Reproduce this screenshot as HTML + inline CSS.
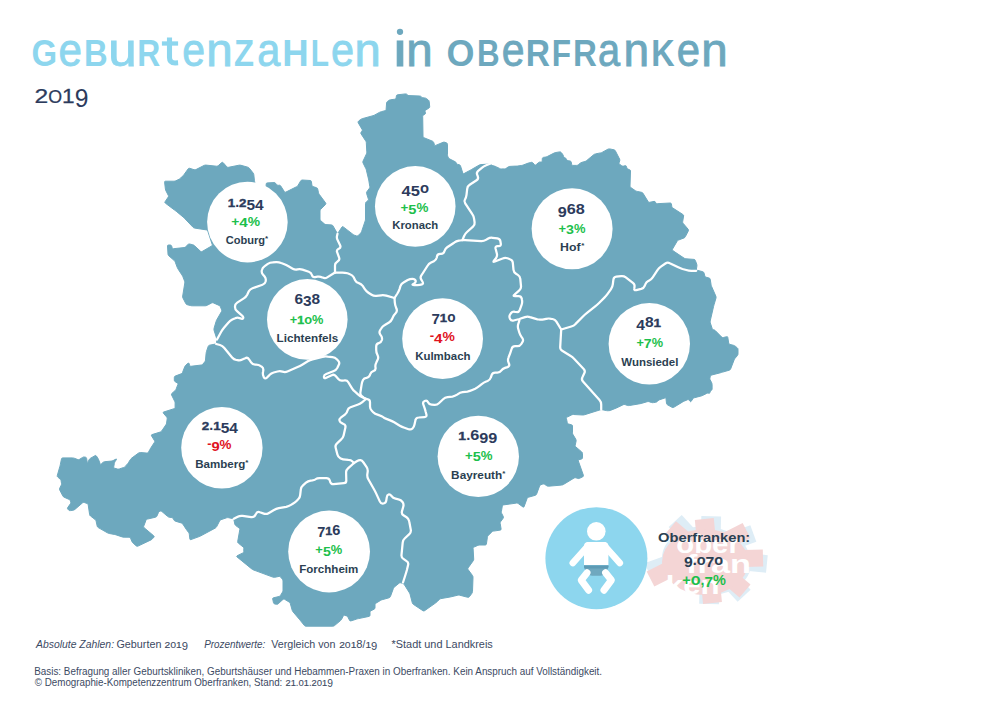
<!DOCTYPE html>
<html><head><meta charset="utf-8"><title>Geburtenzahlen in Oberfranken 2019</title>
<style>
html,body{margin:0;padding:0;background:#fff;}
body{width:1000px;height:707px;position:relative;overflow:hidden;font-family:"Liberation Sans",sans-serif;}
svg{position:absolute;left:0;top:0;display:block;}
text{white-space:pre;font-family:"Liberation Sans",sans-serif;}
</style></head><body>
<svg width="1000" height="707" viewBox="0 0 1000 707" font-family="Liberation Sans, sans-serif">
<text transform="translate(31.40,65.60) scale(0.9009,1)" font-size="36.60" font-weight="bold" fill="#8dd6ee">G</text>
<text transform="translate(58.61,65.60) scale(0.8978,1)" font-size="47.00" stroke="#8dd6ee" stroke-width="0.90" fill="#8dd6ee">e</text>
<text transform="translate(84.06,65.60) scale(0.8960,1)" font-size="36.60" font-weight="bold" fill="#8dd6ee">B</text>
<text transform="translate(108.33,65.60) scale(1.0869,1)" font-size="47.00" stroke="#8dd6ee" stroke-width="0.90" fill="#8dd6ee">u</text>
<text transform="translate(137.27,65.60) scale(0.8695,1)" font-size="36.60" font-weight="bold" fill="#8dd6ee">R</text>
<path d="M169.5,37.6 L169.5,57.6 Q169.5,63 175.1,63 L178.1,62.8" fill="none" stroke="#8dd6ee" stroke-width="5.1"/>
<path d="M161.9,43.5 L178.1,43.5" fill="none" stroke="#8dd6ee" stroke-width="4.3"/>
<text transform="translate(182.16,65.60) scale(0.8706,1)" font-size="47.00" stroke="#8dd6ee" stroke-width="0.90" fill="#8dd6ee">e</text>
<text transform="translate(206.24,65.60) scale(1.0117,1)" font-size="47.00" stroke="#8dd6ee" stroke-width="0.90" fill="#8dd6ee">n</text>
<text transform="translate(234.02,65.60) scale(0.8955,1)" font-size="36.60" font-weight="bold" fill="#8dd6ee">Z</text>
<text transform="translate(257.14,65.60) scale(0.8823,1)" font-size="47.00" stroke="#8dd6ee" stroke-width="0.90" fill="#8dd6ee">a</text>
<text transform="translate(282.30,65.60) scale(0.9992,1)" font-size="36.60" font-weight="bold" fill="#8dd6ee">H</text>
<text transform="translate(310.75,65.60) scale(0.8172,1)" font-size="36.60" font-weight="bold" fill="#8dd6ee">L</text>
<text transform="translate(330.89,65.60) scale(0.8819,1)" font-size="47.00" stroke="#8dd6ee" stroke-width="0.90" fill="#8dd6ee">e</text>
<text transform="translate(354.52,65.60) scale(1.0042,1)" font-size="47.00" stroke="#8dd6ee" stroke-width="0.90" fill="#8dd6ee">n</text>
<text transform="translate(391.48,65.60) scale(1.3072,1)" font-size="47.00" stroke="#6da8be" stroke-width="0.90" fill="#6da8be">ı</text>
<circle cx="400" cy="31.8" r="3.15" fill="#6da8be"/>
<text transform="translate(406.24,65.60) scale(1.0117,1)" font-size="47.00" stroke="#6da8be" stroke-width="0.90" fill="#6da8be">n</text>
<text transform="translate(446.62,65.60) scale(0.9831,1)" font-size="36.60" font-weight="bold" fill="#6da8be">O</text>
<text transform="translate(476.90,65.60) scale(0.8557,1)" font-size="36.60" font-weight="bold" fill="#6da8be">B</text>
<text transform="translate(501.76,65.60) scale(0.8706,1)" font-size="47.00" stroke="#6da8be" stroke-width="0.90" fill="#6da8be">e</text>
<text transform="translate(525.86,65.60) scale(0.9168,1)" font-size="36.60" font-weight="bold" fill="#6da8be">R</text>
<text transform="translate(551.64,65.60) scale(0.8617,1)" font-size="36.60" font-weight="bold" fill="#6da8be">F</text>
<text transform="translate(573.04,65.60) scale(0.9039,1)" font-size="36.60" font-weight="bold" fill="#6da8be">R</text>
<text transform="translate(598.11,65.60) scale(0.8450,1)" font-size="47.00" stroke="#6da8be" stroke-width="0.90" fill="#6da8be">a</text>
<text transform="translate(623.59,65.60) scale(0.9792,1)" font-size="47.00" stroke="#6da8be" stroke-width="0.90" fill="#6da8be">n</text>
<text transform="translate(651.34,65.60) scale(0.8840,1)" font-size="36.60" font-weight="bold" fill="#6da8be">K</text>
<text transform="translate(676.73,65.60) scale(0.8887,1)" font-size="47.00" stroke="#6da8be" stroke-width="0.90" fill="#6da8be">e</text>
<text transform="translate(701.24,65.60) scale(1.0117,1)" font-size="47.00" stroke="#6da8be" stroke-width="0.90" fill="#6da8be">n</text>
<text transform="translate(34.56,102.50) scale(1.2764,1)" font-size="19.30" stroke="#2c3b5c" stroke-width="0.25" fill="#2c3b5c">2</text>
<text transform="translate(48.26,102.50) scale(0.9360,1)" font-size="19.00" stroke="#2c3b5c" stroke-width="0.25" fill="#2c3b5c">O</text>
<text transform="translate(62.09,102.50) scale(1.1700,1)" font-size="19.30" stroke="#2c3b5c" stroke-width="0.25" fill="#2c3b5c">1</text>
<text transform="translate(74.65,107.10) scale(0.9786,1)" font-size="25.20" fill="#2c3b5c">9</text>
<path d="M358.2,122.7Q357.7,121.8 358.5,121.2L360.4,119.6Q361.2,119.0 362.2,118.7L373.0,115.7Q374.0,115.4 374.9,114.9L379.4,112.4Q380.3,111.9 381.3,111.7L385.0,110.7Q386.0,110.5 386.1,109.5L386.6,103.0Q386.7,102.0 387.5,101.4L388.7,100.5Q389.5,99.9 390.5,99.8L394.9,99.2Q395.9,99.1 396.1,98.1L396.4,95.9Q396.6,94.9 397.6,94.8L405.5,93.9Q406.5,93.8 407.1,94.6L407.3,94.8Q407.9,95.6 408.9,95.6L419.6,96.0Q420.6,96.0 421.2,96.8L421.4,96.9Q422.0,97.7 423.0,97.8L424.6,97.9Q425.6,98.0 426.4,98.6L428.3,100.0Q429.1,100.6 429.2,101.6L429.7,106.6Q429.8,107.6 428.9,108.1L425.8,110.0Q424.9,110.5 425.1,111.5L425.4,113.0Q425.6,114.0 424.7,114.4L423.6,115.0Q422.7,115.4 422.7,116.4L423.0,136.3Q423.0,137.3 423.9,137.7L432.5,141.2Q433.4,141.6 433.7,142.5L434.5,144.9Q434.8,145.8 435.7,145.4L443.1,142.3Q444.0,141.9 444.9,142.3L446.6,142.9Q447.5,143.3 447.5,144.3L447.5,154.7Q447.5,155.7 447.9,156.6L448.5,157.7Q448.9,158.6 449.8,159.0L455.1,161.7Q456.0,162.1 456.3,163.0L456.4,163.3Q456.7,164.2 457.7,164.4L459.2,164.7Q460.2,164.9 460.5,165.9L462.8,173.1Q463.1,174.1 464.0,173.6L469.9,170.4Q470.8,169.9 471.7,169.4L479.0,165.2Q479.9,164.7 480.9,164.6L488.8,164.1Q489.8,164.0 490.6,164.6L491.1,164.8Q491.9,165.4 492.9,165.7L494.5,166.1Q495.5,166.4 496.4,166.9L499.5,168.4Q500.4,168.9 501.4,168.9L504.4,168.9Q505.4,168.9 506.2,168.3L508.1,167.0Q508.9,166.4 509.9,166.4L515.7,166.1Q516.7,166.1 517.7,166.0L521.3,165.5Q522.3,165.4 523.2,165.0L528.5,163.0Q529.4,162.6 530.4,162.5L531.2,162.3Q532.2,162.2 532.9,162.9L534.6,164.7Q535.3,165.4 536.1,164.7L538.5,162.6Q539.3,161.9 540.3,162.0L541.1,162.1Q542.1,162.2 542.2,161.2L542.3,158.6Q542.4,157.6 543.4,157.4L545.4,157.1Q546.4,156.9 547.3,156.5L554.0,153.1Q554.9,152.7 555.9,152.5L559.5,151.9Q560.5,151.7 561.2,152.5L561.9,153.3Q562.6,154.1 563.0,155.0L563.7,156.7Q564.1,157.6 565.0,157.9L565.3,158.0Q566.2,158.3 566.5,159.3L566.6,159.5Q566.9,160.5 567.9,160.7L570.1,161.0Q571.1,161.2 571.3,162.2L571.6,164.4Q571.8,165.4 572.8,165.4L576.5,165.4Q577.5,165.4 578.3,164.8L580.2,163.2Q581.0,162.6 582.0,162.3L585.0,161.5Q586.0,161.2 586.8,160.5L589.4,158.3Q590.2,157.6 591.0,157.0L593.7,154.7Q594.5,154.1 595.5,153.9L600.5,152.9Q601.5,152.7 602.4,152.2L607.9,149.2Q608.8,148.8 609.7,148.9L614.0,149.8Q615.0,150.0 615.4,150.9L619.6,159.1Q620.0,160.0 619.7,160.9L619.1,162.8Q618.8,163.8 619.6,164.3L621.7,165.7Q622.5,166.2 623.5,166.1L625.3,165.7Q626.2,165.5 626.5,166.5L626.8,167.8Q627.0,168.8 627.9,169.1L629.6,169.7Q630.5,170.0 630.5,171.0L630.0,186.0Q630.0,187.0 630.8,187.6L635.4,190.7Q636.2,191.2 637.2,191.4L641.5,192.3Q642.5,192.5 643.0,193.3L648.2,201.7Q648.8,202.5 649.7,202.3L654.0,201.4Q655.0,201.2 655.4,202.1L655.8,202.9Q656.2,203.8 657.2,203.7L670.3,203.0Q671.2,203.0 671.4,204.0L671.8,206.5Q672.0,207.5 672.8,208.0L682.9,214.5Q683.8,215.0 683.6,216.0L682.7,221.5Q682.5,222.5 683.1,223.3L688.1,229.2Q688.8,230.0 688.3,230.9L685.4,236.6Q685.0,237.5 684.1,237.9L678.4,240.1Q677.5,240.5 677.0,241.4L672.5,249.1Q672.0,250.0 672.8,250.6L684.2,258.2Q685.0,258.8 686.0,258.8L694.0,259.4Q695.0,259.5 695.3,260.4L696.7,264.1Q697.0,265.0 696.9,266.0L696.4,269.0Q696.2,270.0 697.2,270.3L702.8,271.7Q703.8,272.0 704.0,273.0L704.8,276.0Q705.0,277.0 706.0,277.2L709.0,278.0Q710.0,278.2 710.2,279.2L711.1,284.8Q711.2,285.8 711.7,286.7L715.8,296.1Q716.2,297.0 716.0,298.0L714.0,304.8Q713.8,305.8 713.5,306.7L710.2,321.0Q710.0,322.0 710.3,322.9L712.2,328.6Q712.5,329.5 713.5,329.7L713.7,329.8Q714.7,330.0 715.4,330.7L721.7,337.1Q722.4,337.8 723.4,337.5L726.7,336.7Q727.7,336.4 727.8,337.4L728.7,343.1Q728.8,344.1 729.8,344.4L733.5,345.3Q734.5,345.6 735.3,346.2L737.2,347.8Q738.0,348.4 738.0,349.4L738.0,353.8Q738.0,354.8 737.4,355.6L735.1,358.2Q734.5,359.0 734.1,359.9L730.6,369.0Q730.2,369.9 729.2,370.2L722.7,372.1Q721.7,372.4 720.7,372.7L711.7,375.0Q710.7,375.3 710.4,376.3L710.0,377.8Q709.7,378.8 710.1,379.7L711.7,382.8Q712.1,383.7 712.1,384.7L712.1,389.1Q712.1,390.1 711.2,390.5L711.2,390.5Q710.4,390.8 710.2,391.8L709.9,392.6Q709.7,393.6 708.8,393.3L708.5,393.2Q707.6,392.9 706.7,393.4L702.9,395.3Q702.0,395.8 701.0,396.0L694.5,397.7Q693.5,397.9 692.9,398.7L691.2,401.3Q690.6,402.1 690.0,401.3L689.1,400.1Q688.5,399.3 687.6,399.7L684.5,401.0Q683.6,401.4 682.7,401.9L673.8,407.3Q672.9,407.8 672.0,407.3L667.5,404.8Q666.6,404.3 666.5,403.3L666.0,398.6Q665.9,397.6 665.0,397.9L659.7,399.7Q658.8,400.0 658.1,400.7L657.4,401.4Q656.7,402.1 655.7,402.3L653.4,402.6Q652.4,402.8 651.5,402.5L649.1,401.7Q648.2,401.4 647.2,401.7L642.1,403.2Q641.1,403.5 640.1,403.7L629.4,405.5Q628.4,405.7 627.4,405.4L625.1,404.6Q624.1,404.3 623.2,404.7L618.4,407.1Q617.5,407.5 616.6,407.9L610.9,410.2Q610.0,410.6 609.0,410.7L608.5,410.7Q607.5,410.8 606.5,410.6L602.2,409.7Q601.2,409.5 600.3,409.8L584.7,414.7Q583.8,415.0 582.8,415.0L573.5,414.5Q572.5,414.5 571.6,414.9L567.2,417.1Q566.2,417.5 566.4,418.5L567.3,422.8Q567.5,423.8 568.5,424.0L571.5,424.8Q572.5,425.0 572.5,426.0L572.5,432.8Q572.5,433.8 573.0,434.6L575.7,439.1Q576.2,440.0 576.1,441.0L575.2,445.3Q575.0,446.2 575.8,446.9L581.7,451.9Q582.5,452.5 582.5,453.5L582.5,457.8Q582.5,458.8 581.5,459.0L579.0,459.7Q578.0,460.0 578.3,460.9L583.4,475.3Q583.8,476.2 582.9,476.7L579.6,478.3Q578.8,478.8 577.8,478.4L575.9,477.8Q575.0,477.5 574.1,478.0L563.4,484.5Q562.5,485.0 561.5,485.1L548.5,486.2Q547.5,486.2 546.7,485.7L544.6,484.3Q543.8,483.8 542.8,484.1L540.9,484.7Q540.0,485.0 539.6,485.9L536.6,494.1Q536.2,495.0 535.3,495.3L528.5,497.2Q527.5,497.5 527.1,498.4L524.1,506.6Q523.8,507.5 522.9,506.9L518.3,503.6Q517.5,503.0 516.5,503.1L503.5,504.9Q502.5,505.0 502.3,506.0L501.4,511.5Q501.2,512.5 501.7,513.4L503.3,516.6Q503.8,517.5 503.1,518.3L500.6,521.7Q500.0,522.5 500.2,523.5L501.1,529.0Q501.2,530.0 500.3,530.1L493.5,531.1Q492.5,531.2 491.8,532.0L488.2,535.5Q487.5,536.2 487.4,537.2L486.4,544.0Q486.2,545.0 485.2,545.0L479.8,545.0Q478.8,545.0 477.8,545.4L473.9,547.1Q473.0,547.5 473.1,548.5L473.7,559.0Q473.8,560.0 473.2,560.8L468.1,567.9Q467.5,568.8 468.1,569.6L472.4,575.4Q473.0,576.2 473.0,577.2L472.5,591.5Q472.5,592.5 471.9,593.3L469.4,596.7Q468.8,597.5 467.8,597.3L459.7,595.2Q458.8,595.0 457.8,595.2L451.0,596.8Q450.0,597.0 449.0,597.2L441.0,598.6Q440.0,598.8 439.3,599.5L437.0,601.8Q436.2,602.5 435.4,603.1L424.6,610.7Q423.8,611.2 422.9,610.7L413.3,604.3Q412.5,603.8 412.3,602.8L410.2,594.7Q410.0,593.8 409.5,592.9L404.3,584.6Q403.8,583.8 402.8,583.4L400.9,582.8Q400.0,582.5 399.2,583.1L394.5,586.9Q393.8,587.5 393.4,588.4L390.4,596.6Q390.0,597.5 389.0,597.8L382.2,599.7Q381.2,600.0 380.4,600.5L375.9,603.2Q375.0,603.8 375.0,604.8L375.0,607.8Q375.0,608.8 374.1,609.2L370.9,610.8Q370.0,611.2 370.0,612.2L370.0,615.2Q370.0,616.2 369.0,616.4L358.5,618.6Q357.5,618.8 356.6,619.1L350.9,620.9Q350.0,621.2 349.6,620.4L347.9,617.1Q347.5,616.2 346.6,615.9L344.7,615.3Q343.8,615.0 343.3,615.9L341.7,619.1Q341.2,620.0 340.5,620.6L334.5,625.6Q333.8,626.2 332.8,626.2L306.0,626.2Q305.0,626.2 304.4,625.5L300.6,620.8Q300.0,620.0 299.3,619.2L293.2,612.0Q292.5,611.2 292.2,610.3L290.3,603.5Q290.0,602.5 289.1,602.0L284.6,599.3Q283.8,598.8 283.0,599.4L278.2,603.8Q277.5,604.5 276.5,604.3L274.7,603.9Q273.8,603.8 273.5,602.8L272.7,599.0Q272.5,598.0 273.5,597.8L279.0,596.5Q280.0,596.2 280.5,595.4L282.5,592.1Q283.0,591.2 283.0,590.2L283.0,581.0Q283.0,580.0 282.4,579.2L280.6,577.0Q280.0,576.2 279.0,576.4L274.7,577.3Q273.8,577.5 272.8,577.1L253.4,569.9Q252.5,569.5 251.7,568.9L237.0,556.9Q236.2,556.2 237.1,555.8L242.9,552.9Q243.8,552.5 243.8,551.5L243.8,548.5Q243.8,547.5 243.0,546.9L238.3,543.1Q237.5,542.5 237.7,541.5L239.8,529.7Q240.0,528.8 239.2,528.1L235.8,525.6Q235.0,525.0 234.8,524.0L233.9,519.7Q233.8,518.8 232.8,518.6L228.5,517.7Q227.5,517.5 226.6,517.8L220.9,519.7Q220.0,520.0 219.6,520.9L216.7,526.6Q216.2,527.5 215.4,528.0L200.9,535.8Q200.0,536.2 199.1,536.6L190.9,539.6Q190.0,540.0 189.9,539.0L189.3,534.3Q189.2,533.3 188.6,532.5L187.5,531.0Q186.9,530.2 186.3,529.4L182.8,524.0Q182.2,523.2 181.2,522.9L175.4,521.2Q174.4,520.9 174.0,520.0L173.3,518.7Q172.9,517.8 171.9,517.6L169.2,517.2Q168.2,517.0 167.5,516.3L161.9,511.5Q161.2,510.8 160.2,511.1L159.9,511.2Q158.9,511.5 158.5,512.4L156.9,516.1Q156.5,517.0 155.5,517.2L147.4,519.1Q146.4,519.3 146.0,520.2L143.7,526.2Q143.3,527.1 144.1,527.7L153.7,535.8Q154.5,536.4 153.9,537.2L152.5,538.7Q151.9,539.5 151.0,539.9L138.0,546.1Q137.1,546.5 136.3,545.9L133.2,543.2Q132.4,542.6 132.0,541.7L130.5,538.1Q130.1,537.2 129.1,537.2L124.1,537.2Q123.1,537.2 122.2,536.9L116.2,534.9Q115.3,534.6 114.3,534.4L109.3,533.5Q108.3,533.3 107.4,532.8L98.3,527.6Q97.4,527.1 97.2,526.1L96.1,521.1Q95.9,520.1 95.1,519.5L90.5,516.0Q89.7,515.4 89.6,514.4L88.2,504.8Q88.1,503.8 87.2,503.5L84.3,502.5Q83.4,502.2 82.6,502.8L74.9,509.4Q74.1,510.0 73.1,510.2L70.4,510.6Q69.4,510.8 68.7,510.1L67.8,509.1Q67.1,508.4 67.7,507.6L70.4,503.8Q71.0,503.0 70.8,502.0L70.4,500.9Q70.2,499.9 69.3,499.5L64.1,497.2Q63.2,496.8 62.8,495.9L59.7,489.9Q59.3,489.0 59.8,488.1L61.2,485.2Q61.7,484.3 61.5,483.3L61.1,480.7Q60.9,479.7 60.1,479.1L57.8,477.1Q57.0,476.5 57.3,475.5L59.8,466.7Q60.1,465.7 60.3,464.7L61.5,458.9Q61.7,457.9 62.7,457.9L72.3,457.9Q73.3,457.9 74.2,458.2L77.9,459.6Q78.8,459.9 79.6,459.3L82.6,457.4Q83.4,456.8 84.4,457.0L85.5,457.2Q86.5,457.4 86.6,458.4L87.2,462.3Q87.3,463.3 87.8,462.4L89.2,459.6Q89.7,458.7 90.6,458.2L95.0,455.7Q95.9,455.2 96.4,456.0L97.7,457.9Q98.2,458.7 98.6,459.6L100.1,463.7Q100.5,464.6 101.3,463.9L102.9,462.5Q103.7,461.8 104.7,461.7L111.2,461.1Q112.2,461.0 113.1,460.6L116.0,459.1Q116.9,458.7 116.4,459.6L115.0,461.7Q114.5,462.6 114.3,463.6L113.7,467.0Q113.5,468.0 114.5,468.2L117.4,469.0Q118.4,469.2 119.4,468.9L123.7,467.5Q124.7,467.2 125.3,466.4L127.9,463.4Q128.5,462.6 129.0,461.7L130.4,459.6Q130.9,458.7 131.7,458.1L138.6,453.0Q139.4,452.4 140.4,452.5L147.0,453.1Q148.0,453.2 148.4,452.3L149.9,449.5Q150.3,448.6 150.9,447.8L154.4,442.4Q155.0,441.6 154.5,440.7L151.5,435.8Q151.0,434.9 152.0,434.6L160.1,432.1Q161.1,431.8 161.7,431.0L165.9,424.8Q166.5,424.0 166.6,423.0L167.2,418.8Q167.3,417.8 166.7,417.0L163.3,413.1Q162.7,412.3 163.7,412.0L174.1,408.7Q175.1,408.4 175.1,407.4L175.1,403.2Q175.1,402.2 174.7,401.3L171.6,395.0Q171.2,394.1 171.9,393.4L175.2,390.5Q175.9,389.8 176.2,388.9L177.9,384.4Q178.2,383.5 177.3,383.0L175.2,381.7Q174.3,381.2 174.3,380.2L174.3,377.5Q174.3,376.5 175.2,376.1L181.2,373.8Q182.1,373.4 182.5,372.5L184.8,366.6Q185.2,365.7 186.0,365.0L188.0,363.3Q188.8,362.6 189.1,363.6L189.6,365.4Q189.9,366.4 190.9,366.3L201.3,365.0Q202.3,364.9 202.9,364.1L204.8,361.8Q205.4,361.0 205.5,360.0L206.1,353.4Q206.2,352.4 206.5,351.4L208.2,346.4Q208.5,345.4 209.5,345.2L215.3,344.1Q216.3,343.9 216.5,342.9L216.8,340.5Q217.0,339.5 216.7,338.5L214.1,330.5Q213.8,329.5 214.0,328.5L216.0,321.7Q216.2,320.8 216.7,319.9L221.5,311.6Q222.0,310.8 221.6,309.8L220.4,306.7Q220.0,305.8 219.1,305.4L213.4,302.9Q212.5,302.5 211.6,303.0L207.1,305.3Q206.2,305.8 205.2,305.8L192.2,305.8Q191.2,305.8 190.3,305.5L187.2,304.7Q186.2,304.5 185.8,303.6L182.9,297.9Q182.5,297.0 182.7,296.0L184.8,283.0Q185.0,282.0 184.6,281.1L182.9,276.7Q182.5,275.8 181.9,274.9L178.1,269.1Q177.5,268.2 177.2,267.3L175.3,262.2Q175.0,261.2 174.3,260.6L168.7,255.7Q168.0,255.0 168.0,254.0L167.5,246.0Q167.5,245.0 168.5,245.0L170.2,245.0Q171.2,245.0 171.6,245.9L172.2,247.8Q172.5,248.8 173.5,248.7L184.0,247.6Q185.0,247.5 185.7,246.8L188.0,244.5Q188.8,243.8 189.7,244.0L192.8,244.8Q193.8,245.0 194.5,245.7L200.5,251.3Q201.2,252.0 202.1,251.5L211.6,246.0Q212.5,245.5 212.2,244.5L207.8,231.0Q207.5,230.0 206.5,229.9L194.7,228.1Q193.8,228.0 193.1,227.3L184.4,218.2Q183.8,217.5 183.0,216.9L177.0,211.9Q176.2,211.2 175.4,210.7L174.6,210.1Q173.8,209.5 173.0,208.9L165.3,203.1Q164.5,202.5 165.1,201.7L168.2,197.1Q168.8,196.2 168.3,195.4L166.0,190.9Q165.5,190.0 165.4,189.0L164.6,182.2Q164.5,181.2 165.5,181.2L174.0,181.2Q175.0,181.2 175.9,180.8L179.1,179.2Q180.0,178.8 180.7,178.0L183.0,175.7Q183.8,175.0 184.3,174.2L188.2,168.8Q188.8,168.0 189.7,168.3L194.0,169.7Q195.0,170.0 195.9,169.6L204.1,165.4Q205.0,165.0 206.0,165.1L216.5,166.2Q217.5,166.2 218.3,165.6L221.7,162.6Q222.5,162.0 223.2,162.7L226.8,166.8Q227.5,167.5 228.5,167.3L239.0,165.2Q240.0,165.0 241.0,165.3L247.8,167.2Q248.8,167.5 249.4,168.3L253.1,173.0Q253.8,173.8 253.8,174.7L254.4,180.3Q254.5,181.2 254.8,182.2L256.7,189.0Q257.0,190.0 258.0,190.0L265.0,190.0Q266.0,190.0 266.0,189.0L266.2,184.0Q266.2,183.0 267.2,182.9L274.0,182.6Q275.0,182.5 275.6,183.3L276.9,184.7Q277.5,185.5 278.5,185.3L279.0,185.2Q280.0,185.0 280.6,185.8L284.4,191.7Q285.0,192.5 285.9,192.1L296.6,186.7Q297.5,186.2 298.0,185.4L300.7,180.9Q301.2,180.0 302.2,180.0L310.3,180.5Q311.2,180.5 311.4,181.5L311.9,185.3Q312.0,186.2 313.0,186.6L316.5,187.7Q317.5,188.0 317.7,189.0L318.5,192.8Q318.8,193.8 319.4,194.6L325.6,202.9Q326.2,203.8 325.5,204.5L320.7,209.3Q320.0,210.0 320.0,211.0L320.0,219.0Q320.0,220.0 320.7,220.7L324.3,223.8Q325.0,224.5 326.0,224.6L331.5,224.9Q332.5,225.0 333.0,225.9L337.0,232.9Q337.5,233.8 338.1,232.9L341.9,227.1Q342.5,226.2 343.3,226.9L353.0,234.4Q353.8,235.0 354.7,235.3L356.6,235.9Q357.5,236.2 358.2,235.5L360.5,233.2Q361.2,232.5 361.6,231.6L365.2,220.9Q365.5,220.0 365.5,219.0L365.5,203.5Q365.5,202.5 366.3,201.9L368.0,200.6Q368.8,200.0 368.4,199.1L366.6,193.4Q366.2,192.5 366.9,191.7L369.4,188.3Q370.0,187.5 369.8,186.5L368.9,181.0Q368.8,180.0 368.5,179.0L366.4,170.2Q366.2,169.2 365.7,168.3L363.1,163.0Q362.6,162.1 363.0,161.2L366.5,153.8Q366.9,152.9 366.8,151.9L366.3,142.6Q366.2,141.6 365.6,140.8L361.1,133.9Q360.5,133.1 361.1,132.3L362.0,131.1Q362.6,130.3 362.1,129.4Z" fill="#6da8be" stroke="#6da8be" stroke-width="1.0" stroke-linejoin="round"/>
<g fill="none" stroke="#fff" stroke-width="2.25" stroke-linejoin="round" stroke-linecap="round">
<path d="M337.5,233.8L337.0,235.9Q336.5,238.0 337.7,240.3L340.1,245.2Q341.2,247.5 338.9,248.7L338.6,248.8Q336.2,250.0 337.2,252.4L339.1,257.6Q340.0,260.0 337.8,261.3L337.2,261.7Q335.0,263.0 335.0,265.6L335.0,272.5"/>
<path d="M335.0,272.5L342.4,272.5Q345.0,272.5 347.5,273.3L350.0,274.2Q352.5,275.0 353.7,277.3L355.1,280.2Q356.2,282.5 358.8,283.1L358.8,283.1Q361.2,283.8 362.7,285.9L364.8,289.1Q366.2,291.2 368.4,292.7L371.6,294.8Q373.8,296.2 376.3,295.9L381.2,295.3Q383.8,295.0 386.3,295.7L394.5,298.0"/>
<path d="M335.0,272.5L327.2,277.4Q325.0,278.8 322.7,277.6L322.3,277.4Q320.0,276.2 317.4,276.7L315.1,277.1Q312.5,277.5 311.9,275.0L311.9,275.0Q311.2,272.5 308.8,271.7L302.5,269.6Q300.0,268.8 297.5,269.4L297.5,269.4Q295.0,270.0 292.7,268.7L288.5,266.3Q286.2,265.0 283.8,264.0L281.2,263.0Q278.8,262.0 276.2,262.1L272.6,262.4Q270.0,262.5 267.8,263.9L264.7,266.1Q262.5,267.5 261.9,270.0L261.9,270.0Q261.2,272.5 262.9,274.5L264.6,276.5Q266.2,278.5 265.7,281.0L265.6,281.5Q265.0,284.0 262.5,284.8L252.5,288.2Q250.0,289.0 248.8,291.3L247.2,294.7Q246.0,297.0 243.8,298.4L237.2,302.6Q235.0,304.0 235.0,306.6L235.0,306.9Q235.0,309.5 237.0,311.2L241.8,315.3Q243.8,317.0 243.1,318.2L243.1,318.2Q242.5,319.5 240.2,318.3L239.8,318.2Q237.5,317.0 235.2,318.2L232.3,319.6Q230.0,320.8 228.3,322.7L224.2,327.5Q222.5,329.5 221.2,331.8L217.0,339.5"/>
<path d="M216.2,344.0L220.0,345.0Q222.5,345.8 224.1,347.8L232.1,357.5Q233.8,359.5 236.3,360.0L237.5,360.2Q240.0,360.8 242.3,359.6L245.2,358.2Q247.5,357.0 248.9,359.2L251.1,362.3Q252.5,364.5 255.1,364.5L256.1,364.5Q258.8,364.5 260.8,366.1L261.7,366.7Q263.8,368.2 263.2,370.8L263.0,372.0Q262.5,374.5 263.7,376.8L263.8,377.2Q265.0,379.5 266.8,377.7L269.4,375.1Q271.2,373.2 273.7,372.5L277.5,371.5Q280.0,370.8 282.5,371.6L282.5,371.6Q285.0,372.5 287.4,371.5L297.6,367.0Q300.0,366.0 302.2,364.7L307.8,361.3Q310.0,360.0 312.5,359.4L322.5,356.9Q325.0,356.2 327.6,356.6L332.4,357.2Q335.0,357.5 336.8,359.3L338.2,360.7Q340.0,362.5 338.8,364.8L337.4,367.7Q336.2,370.0 333.8,371.0L326.2,374.0Q323.8,375.0 323.9,377.0L323.9,377.0Q324.0,379.0 326.3,377.8L331.7,375.2Q334.0,374.0 335.7,376.0L338.3,379.0Q340.0,381.0 342.6,380.6L344.4,380.4Q347.0,380.0 348.3,382.2L351.7,387.8Q353.0,390.0 355.0,391.7L358.0,394.3Q360.0,396.0 362.3,397.2L366.0,399.0"/>
<path d="M394.5,298.0L397.4,293.5Q398.8,291.2 399.6,288.8L400.4,286.2Q401.2,283.8 403.5,282.5L407.7,280.0Q410.0,278.8 412.5,278.8L412.5,278.8Q415.0,278.8 415.6,280.6L415.6,280.6Q416.2,282.5 413.9,283.7L413.6,283.8Q411.2,285.0 413.9,285.0L417.4,285.0Q420.0,285.0 421.9,284.4L421.9,284.4Q423.8,283.8 422.4,281.5L421.3,279.7Q420.0,277.5 421.2,275.6L421.2,275.6Q422.5,273.8 423.9,271.5L427.4,266.0Q428.8,263.8 431.1,262.6L433.9,261.2Q436.2,260.0 436.8,257.5L437.0,256.3Q437.5,253.8 440.1,253.8L441.1,253.8Q443.8,253.8 444.4,251.2L444.4,251.2Q445.0,248.8 447.2,247.3L454.1,242.7Q456.2,241.2 458.8,240.7L460.0,240.5Q462.5,240.0 465.1,240.2L481.2,241.1Q483.8,241.2 486.0,239.9L487.8,238.8Q490.0,237.5 492.6,237.8L497.4,238.4Q500.0,238.8 500.4,241.3L500.8,243.7Q501.2,246.2 498.6,246.2L497.6,246.2Q495.0,246.2 495.6,248.8L496.9,253.7Q497.5,256.2 495.9,258.3L494.1,260.5Q492.5,262.5 494.9,261.5L502.6,258.5Q505.0,257.5 507.5,258.3L510.0,259.2Q512.5,260.0 512.8,262.6L513.5,269.9Q513.8,272.5 516.0,273.8L517.8,274.9Q520.0,276.2 520.3,278.8L521.0,286.2Q521.2,288.8 519.3,290.4L514.5,294.6Q512.5,296.2 515.1,296.2L518.6,296.2Q521.2,296.2 521.8,298.8L522.0,300.0Q522.5,302.5 521.6,304.9L519.7,310.1Q518.8,312.5 516.2,312.0L515.0,311.8Q512.5,311.2 510.9,313.3L510.3,314.2Q508.8,316.2 509.9,318.6L510.1,318.9Q511.2,321.2 513.7,320.5L517.5,319.5Q520.0,318.8 519.2,321.2L518.3,323.8Q517.5,326.2 518.2,328.7L519.3,332.5Q520.0,335.0 521.6,337.1L522.2,337.9Q523.8,340.0 522.4,342.2L521.3,344.0Q520.0,346.2 517.4,346.2L515.1,346.2Q512.5,346.2 511.7,348.7L510.8,351.3Q510.0,353.8 509.0,356.2L508.5,357.6Q507.5,360.0 508.5,362.4L509.0,363.8Q510.0,366.2 507.5,367.1L505.0,367.9Q502.5,368.8 501.2,370.6L501.2,370.6Q500.0,372.5 497.4,372.5L495.1,372.5Q492.5,372.5 491.7,375.0L490.8,377.5Q490.0,380.0 487.6,381.0L486.2,381.5Q483.8,382.5 481.7,384.1L479.5,385.9Q477.5,387.5 475.2,388.7L472.3,390.1Q470.0,391.2 467.4,391.6L462.6,392.2Q460.0,392.5 457.9,394.1L457.1,394.7Q455.0,396.2 452.4,396.6L447.6,397.2Q445.0,397.5 443.1,399.3L438.9,403.2Q437.0,405.0 434.4,404.8L431.6,404.6Q429.0,404.4 428.0,402.2L428.0,402.2Q427.0,400.0 424.7,401.0L424.7,401.0Q422.4,402.0 423.3,404.4L424.1,406.6Q425.0,409.0 425.6,411.5L426.4,414.5Q427.0,417.0 424.4,417.1L418.6,417.5Q416.0,417.6 415.5,420.1L414.5,424.5Q414.0,427.0 412.5,428.5L412.5,428.5Q411.0,430.0 408.5,429.2L404.5,427.8Q402.0,427.0 399.8,425.7L394.2,422.3Q392.0,421.0 389.6,420.1L386.4,418.9Q384.0,418.0 383.0,417.0L383.0,417.0Q382.0,416.0 379.5,415.3L377.5,414.7Q375.0,414.0 373.2,412.2L371.8,410.8Q370.0,409.0 370.0,406.4L370.0,402.2Q370.0,399.6 368.0,399.3L368.0,399.3Q366.0,399.0 363.8,397.6L362.2,396.4Q360.0,395.0 360.4,392.4L361.6,384.6Q362.0,382.0 363.0,380.0L363.0,380.0Q364.0,378.0 366.5,377.8L366.5,377.8Q369.0,377.6 369.9,375.2L370.1,374.4Q371.0,372.0 373.4,371.0L373.6,371.0Q376.0,370.0 375.5,367.5L375.5,367.5Q375.0,365.0 376.2,362.7L377.6,359.8Q378.8,357.5 377.6,355.2L377.4,354.8Q376.2,352.5 376.2,349.9L376.2,346.4Q376.2,343.8 378.8,343.1L378.8,343.1Q381.2,342.5 381.9,340.0L381.9,340.0Q382.5,337.5 380.9,335.4L380.3,334.6Q378.8,332.5 380.1,330.3L381.2,328.5Q382.5,326.2 384.8,325.0L389.0,322.5Q391.2,321.2 392.2,318.8L392.8,317.4Q393.8,315.0 395.6,313.2L395.7,313.1Q397.5,311.2 396.5,308.8L396.0,307.4Q395.0,305.0 394.8,302.4L394.5,298.0"/>
<path d="M490.0,163.8L486.2,165.3Q483.8,166.2 481.8,167.9L478.2,170.8Q476.2,172.5 477.2,174.9L477.8,176.3Q478.8,178.8 476.6,180.2L469.7,184.8Q467.5,186.2 467.2,188.8L466.5,194.9Q466.2,197.5 465.0,199.4L465.0,199.4Q463.8,201.2 465.2,203.4L472.3,214.1Q473.8,216.2 474.1,218.8L474.6,222.4Q475.0,225.0 473.0,226.7L467.0,232.0Q465.0,233.8 464.0,236.2L462.5,240.0"/>
<path d="M520.0,318.8L525.0,317.1Q527.5,316.2 530.0,317.1L532.5,317.9Q535.0,318.8 537.5,319.3L538.7,319.5Q541.2,320.0 543.8,319.4L546.2,318.8Q548.8,318.2 551.3,318.8L552.5,319.0Q555.0,319.5 556.4,321.7L561.2,329.5"/>
<path d="M561.2,329.5L571.3,326.5Q573.8,325.8 575.6,323.9L583.2,316.3Q585.0,314.5 587.0,312.9L595.5,306.1Q597.5,304.5 599.3,302.7L604.4,297.6Q606.2,295.8 607.8,293.6L611.0,289.1Q612.5,287.0 612.8,284.4L613.4,279.6Q613.8,277.0 616.3,276.7L621.2,276.1Q623.8,275.8 625.8,277.3L632.9,282.9Q635.0,284.5 634.5,287.0L634.3,288.2Q633.8,290.8 636.3,290.1L641.2,288.9Q643.8,288.2 644.7,285.8L645.3,284.4Q646.2,282.0 648.6,280.8L648.9,280.7Q651.2,279.5 652.7,277.3L657.3,270.4Q658.8,268.2 660.9,266.7L665.4,263.5Q667.5,262.0 669.8,263.2L677.7,267.1Q680.0,268.2 682.5,269.0L686.3,270.0Q688.8,270.8 691.4,270.8L696.2,270.8"/>
<path d="M561.2,329.5L560.2,346.9Q560.0,349.5 562.2,350.8L570.3,355.7Q572.5,357.0 574.3,358.9L583.7,368.9Q585.5,370.8 584.4,373.1L582.4,377.2Q581.2,379.5 583.0,381.4L599.5,400.1Q601.2,402.0 601.2,404.6L601.2,409.5"/>
<path d="M366.0,399.0L362.0,402.3Q360.0,404.0 357.5,404.8L350.5,407.2Q348.0,408.0 347.5,410.5L347.5,410.5Q347.0,413.0 344.9,414.6L341.1,417.4Q339.0,419.0 339.5,420.7L339.5,420.7Q340.0,422.4 342.4,423.4L343.6,424.0Q346.0,425.0 345.4,427.5L343.6,435.5Q343.0,438.0 341.0,439.7L337.0,443.3Q335.0,445.0 335.6,447.5L337.4,454.5Q338.0,457.0 340.3,458.2L340.7,458.4Q343.0,459.6 345.6,459.7L348.4,459.9Q351.0,460.0 352.5,461.5L354.0,463.0"/>
<path d="M354.0,463.0L348.0,468.3Q346.0,470.0 346.1,472.6L346.3,480.4Q346.4,483.0 343.8,483.2L333.6,484.2Q331.0,484.4 330.2,481.9L329.8,480.5Q329.0,478.0 326.4,478.0L319.6,478.0Q317.0,478.0 316.0,479.0L316.0,479.0Q315.0,480.0 312.4,480.4L310.6,480.6Q308.0,481.0 306.0,482.7L303.0,485.3Q301.0,487.0 300.8,489.6L300.2,494.9Q300.0,497.5 298.2,499.3L296.8,500.7Q295.0,502.5 292.8,503.8L291.0,504.9Q288.8,506.2 286.2,506.8L278.8,508.2Q276.2,508.8 274.0,510.0L268.5,513.2Q266.2,514.5 263.8,513.6L259.9,512.2Q257.5,511.2 256.2,513.5L255.1,515.3Q253.8,517.5 251.2,517.1L242.6,515.9Q240.0,515.5 237.7,516.7L233.8,518.8"/>
<path d="M354.0,463.0L356.8,461.3Q359.0,460.0 360.5,460.2L360.5,460.2Q362.0,460.4 363.5,462.5L366.5,466.9Q368.0,469.0 367.7,471.6L367.3,474.4Q367.0,477.0 368.3,479.3L373.7,488.7Q375.0,491.0 376.1,493.4L379.9,501.6Q381.0,504.0 383.5,503.5L383.5,503.5Q386.0,503.0 386.3,500.4L386.7,497.6Q387.0,495.0 388.5,494.5L388.5,494.5Q390.0,494.0 391.5,496.0L391.5,496.0Q393.0,498.0 395.5,498.6L398.5,499.4Q401.0,500.0 402.5,502.0L402.5,502.0Q404.0,504.0 403.3,506.5L402.0,511.2Q401.2,513.8 403.4,515.2L406.6,517.3Q408.8,518.8 409.2,521.3L410.8,529.9Q411.2,532.5 409.3,534.2L404.9,538.3Q403.0,540.0 402.7,542.6L401.5,554.9Q401.2,557.5 403.4,558.9L406.6,561.1Q408.8,562.5 408.1,565.0L406.9,570.0Q406.2,572.5 405.4,575.0L403.0,582.5"/>
</g>
<circle cx="247.40" cy="222.10" r="40.3" fill="#fff"/>
<circle cx="415.25" cy="206.40" r="40.3" fill="#fff"/>
<circle cx="572.10" cy="228.80" r="40.5" fill="#fff"/>
<circle cx="307.30" cy="319.40" r="40.3" fill="#fff"/>
<circle cx="442.60" cy="338.70" r="40.4" fill="#fff"/>
<circle cx="649.30" cy="343.80" r="40.7" fill="#fff"/>
<circle cx="221.90" cy="447.80" r="40.7" fill="#fff"/>
<circle cx="478.30" cy="456.40" r="40.7" fill="#fff"/>
<circle cx="329.10" cy="551.50" r="40.9" fill="#fff"/>
<text transform="translate(227.76,207.40) scale(1.2057,1)" font-size="11.08" font-weight="bold" stroke="#2c3b5c" stroke-width="0.35" fill="#2c3b5c">1</text>
<text transform="translate(235.19,207.40) scale(0.9883,1)" font-size="14.20" font-weight="bold" fill="#2c3b5c">.</text>
<text transform="translate(239.08,207.40) scale(1.2057,1)" font-size="11.08" font-weight="bold" stroke="#2c3b5c" stroke-width="0.35" fill="#2c3b5c">2</text>
<text transform="translate(246.51,210.20) scale(1.0871,1)" font-size="14.20" font-weight="bold" fill="#2c3b5c">5</text>
<text transform="translate(255.10,210.20) scale(1.0871,1)" font-size="14.20" font-weight="bold" fill="#2c3b5c">4</text>
<text transform="translate(231.22,225.90) scale(1.1020,1)" font-size="12.60" font-weight="bold" fill="#1dbf4c">+</text>
<text transform="translate(239.33,227.40) scale(1.2122,1)" font-size="12.60" font-weight="bold" fill="#1dbf4c">4</text>
<text transform="translate(247.82,225.90) scale(1.1020,1)" font-size="12.60" font-weight="bold" fill="#1dbf4c">%</text>
<text transform="translate(225.65,243.70) scale(0.9895,1)" font-size="11.20" font-weight="bold" fill="#2b3f52">Coburg</text>
<text transform="translate(265.04,240.50) scale(1.0000,1)" font-size="8.00" font-weight="bold" fill="#2b3f52">*</text>
<text transform="translate(401.60,196.10) scale(1.1594,1)" font-size="14.20" font-weight="bold" fill="#2c3b5c">4</text>
<text transform="translate(410.76,196.10) scale(1.1594,1)" font-size="14.20" font-weight="bold" fill="#2c3b5c">5</text>
<text transform="translate(419.91,193.30) scale(1.0540,1)" font-size="14.00" font-weight="bold" fill="#2c3b5c">o</text>
<text transform="translate(400.44,212.20) scale(1.0626,1)" font-size="12.60" font-weight="bold" fill="#1dbf4c">+</text>
<text transform="translate(408.26,213.70) scale(1.1689,1)" font-size="12.60" font-weight="bold" fill="#1dbf4c">5</text>
<text transform="translate(416.45,212.20) scale(1.0626,1)" font-size="12.60" font-weight="bold" fill="#1dbf4c">%</text>
<text transform="translate(392.24,229.30) scale(1.0117,1)" font-size="11.20" font-weight="bold" fill="#2b3f52">Kronach</text>
<text transform="translate(557.74,216.60) scale(1.1422,1)" font-size="14.20" font-weight="bold" fill="#2c3b5c">9</text>
<text transform="translate(566.76,213.80) scale(1.1422,1)" font-size="14.20" font-weight="bold" fill="#2c3b5c">6</text>
<text transform="translate(575.78,213.80) scale(1.1422,1)" font-size="14.20" font-weight="bold" fill="#2c3b5c">8</text>
<text transform="translate(558.41,232.90) scale(1.0272,1)" font-size="12.60" font-weight="bold" fill="#1dbf4c">+</text>
<text transform="translate(565.96,234.40) scale(1.1299,1)" font-size="12.60" font-weight="bold" fill="#1dbf4c">3</text>
<text transform="translate(573.88,232.90) scale(1.0272,1)" font-size="12.60" font-weight="bold" fill="#1dbf4c">%</text>
<text transform="translate(560.03,251.10) scale(1.0986,1)" font-size="11.20" font-weight="bold" fill="#2b3f52">Hof</text>
<text transform="translate(581.29,247.90) scale(1.0000,1)" font-size="8.00" font-weight="bold" fill="#2b3f52">*</text>
<text transform="translate(294.39,303.50) scale(1.0864,1)" font-size="14.20" font-weight="bold" fill="#2c3b5c">6</text>
<text transform="translate(302.96,306.30) scale(1.0864,1)" font-size="14.20" font-weight="bold" fill="#2c3b5c">3</text>
<text transform="translate(311.54,303.50) scale(1.0864,1)" font-size="14.20" font-weight="bold" fill="#2c3b5c">8</text>
<text transform="translate(289.76,323.60) scale(1.0148,1)" font-size="12.60" font-weight="bold" fill="#1dbf4c">+</text>
<text transform="translate(297.23,323.60) scale(1.2380,1)" font-size="10.08" font-weight="bold" stroke="#1dbf4c" stroke-width="0.35" fill="#1dbf4c">1</text>
<text transform="translate(304.17,323.60) scale(1.0148,1)" font-size="12.74" font-weight="bold" fill="#1dbf4c">o</text>
<text transform="translate(312.07,323.60) scale(1.0148,1)" font-size="12.60" font-weight="bold" fill="#1dbf4c">%</text>
<text transform="translate(276.62,342.00) scale(1.0429,1)" font-size="11.20" font-weight="bold" fill="#2b3f52">Lichtenfels</text>
<text transform="translate(431.40,324.40) scale(1.0703,1)" font-size="14.20" font-weight="bold" fill="#2c3b5c">7</text>
<text transform="translate(439.85,321.60) scale(1.1871,1)" font-size="11.08" font-weight="bold" stroke="#2c3b5c" stroke-width="0.35" fill="#2c3b5c">1</text>
<text transform="translate(447.16,321.60) scale(0.9730,1)" font-size="14.00" font-weight="bold" fill="#2c3b5c">o</text>
<text transform="translate(429.68,339.70) scale(1.0490,1)" font-size="12.60" font-weight="bold" fill="#e0131e">-</text>
<text transform="translate(434.09,342.60) scale(1.2146,1)" font-size="12.60" font-weight="bold" fill="#e0131e">4</text>
<text transform="translate(442.60,341.10) scale(1.1042,1)" font-size="12.60" font-weight="bold" fill="#e0131e">%</text>
<text transform="translate(415.13,360.40) scale(1.0247,1)" font-size="11.20" font-weight="bold" fill="#2b3f52">Kulmbach</text>
<text transform="translate(636.26,329.80) scale(1.0965,1)" font-size="14.20" font-weight="bold" fill="#2c3b5c">4</text>
<text transform="translate(644.92,327.00) scale(1.0965,1)" font-size="14.20" font-weight="bold" fill="#2c3b5c">8</text>
<text transform="translate(653.58,327.00) scale(1.2161,1)" font-size="11.08" font-weight="bold" stroke="#2c3b5c" stroke-width="0.35" fill="#2c3b5c">1</text>
<text transform="translate(636.41,346.60) scale(1.0115,1)" font-size="12.60" font-weight="bold" fill="#1dbf4c">+</text>
<text transform="translate(643.86,348.10) scale(1.1126,1)" font-size="12.60" font-weight="bold" fill="#1dbf4c">7</text>
<text transform="translate(651.65,346.60) scale(1.0115,1)" font-size="12.60" font-weight="bold" fill="#1dbf4c">%</text>
<text transform="translate(621.29,366.30) scale(1.0253,1)" font-size="11.20" font-weight="bold" fill="#2b3f52">Wunsiedel</text>
<text transform="translate(201.83,429.70) scale(1.2133,1)" font-size="11.08" font-weight="bold" stroke="#2c3b5c" stroke-width="0.35" fill="#2c3b5c">2</text>
<text transform="translate(209.31,429.70) scale(0.9945,1)" font-size="14.20" font-weight="bold" fill="#2c3b5c">.</text>
<text transform="translate(213.23,429.70) scale(1.2133,1)" font-size="11.08" font-weight="bold" stroke="#2c3b5c" stroke-width="0.35" fill="#2c3b5c">1</text>
<text transform="translate(220.71,432.50) scale(1.0939,1)" font-size="14.20" font-weight="bold" fill="#2c3b5c">5</text>
<text transform="translate(229.34,432.50) scale(1.0939,1)" font-size="14.20" font-weight="bold" fill="#2c3b5c">4</text>
<text transform="translate(207.15,447.90) scale(1.0103,1)" font-size="12.60" font-weight="bold" fill="#e0131e">-</text>
<text transform="translate(211.39,450.80) scale(1.1698,1)" font-size="12.60" font-weight="bold" fill="#e0131e">9</text>
<text transform="translate(219.59,449.30) scale(1.0634,1)" font-size="12.60" font-weight="bold" fill="#e0131e">%</text>
<text transform="translate(195.13,468.40) scale(1.0330,1)" font-size="11.20" font-weight="bold" fill="#2b3f52">Bamberg</text>
<text transform="translate(245.24,465.20) scale(1.0000,1)" font-size="8.00" font-weight="bold" fill="#2b3f52">*</text>
<text transform="translate(458.37,440.20) scale(1.2676,1)" font-size="11.08" font-weight="bold" stroke="#2c3b5c" stroke-width="0.35" fill="#2c3b5c">1</text>
<text transform="translate(466.17,440.20) scale(1.0390,1)" font-size="14.20" font-weight="bold" fill="#2c3b5c">.</text>
<text transform="translate(470.27,440.20) scale(1.1429,1)" font-size="14.20" font-weight="bold" fill="#2c3b5c">6</text>
<text transform="translate(479.30,443.00) scale(1.1429,1)" font-size="14.20" font-weight="bold" fill="#2c3b5c">9</text>
<text transform="translate(488.33,443.00) scale(1.1429,1)" font-size="14.20" font-weight="bold" fill="#2c3b5c">9</text>
<text transform="translate(464.99,459.70) scale(1.0508,1)" font-size="12.60" font-weight="bold" fill="#1dbf4c">+</text>
<text transform="translate(472.73,461.20) scale(1.1559,1)" font-size="12.60" font-weight="bold" fill="#1dbf4c">5</text>
<text transform="translate(480.83,459.70) scale(1.0508,1)" font-size="12.60" font-weight="bold" fill="#1dbf4c">%</text>
<text transform="translate(451.11,478.80) scale(1.0530,1)" font-size="11.20" font-weight="bold" fill="#2b3f52">Bayreuth</text>
<text transform="translate(502.24,475.60) scale(1.0000,1)" font-size="8.00" font-weight="bold" fill="#2b3f52">*</text>
<text transform="translate(317.18,537.40) scale(1.0231,1)" font-size="14.20" font-weight="bold" fill="#2c3b5c">7</text>
<text transform="translate(325.26,534.60) scale(1.1347,1)" font-size="11.08" font-weight="bold" stroke="#2c3b5c" stroke-width="0.35" fill="#2c3b5c">1</text>
<text transform="translate(332.25,534.60) scale(1.0231,1)" font-size="14.20" font-weight="bold" fill="#2c3b5c">6</text>
<text transform="translate(315.36,554.30) scale(1.0233,1)" font-size="12.60" font-weight="bold" fill="#1dbf4c">+</text>
<text transform="translate(322.89,555.80) scale(1.1256,1)" font-size="12.60" font-weight="bold" fill="#1dbf4c">5</text>
<text transform="translate(330.78,554.30) scale(1.0233,1)" font-size="12.60" font-weight="bold" fill="#1dbf4c">%</text>
<text transform="translate(299.23,573.40) scale(1.0321,1)" font-size="11.20" font-weight="bold" fill="#2b3f52">Forchheim</text>
<g transform="translate(1.5,-1.0) rotate(7.0 706.9 562.5) translate(706.9 562.5) scale(1.040) translate(-706.9 -562.5)" stroke="#deedf6" fill="none" stroke-linejoin="round"><path d="M650.5,579 L746.5,530.5" stroke-width="17"/><path d="M670.5,527.8 L745,591" stroke-width="17"/><path d="M704.3,519 L712.5,603" stroke-width="19"/><path d="M706.9,559.4 L763,558" stroke-width="17"/><ellipse cx="705" cy="562" rx="43" ry="33" stroke="none" fill="#deedf6"/></g>
<g transform="translate(0.0,0.0) rotate(0.0 706.9 562.5) translate(706.9 562.5) scale(1.000) translate(-706.9 -562.5)" stroke="#f4d5d5" fill="none" stroke-linejoin="round"><path d="M650.5,579 L746.5,530.5" stroke-width="17"/><path d="M670.5,527.8 L745,591" stroke-width="17"/><path d="M704.3,519 L712.5,603" stroke-width="19"/><path d="M706.9,559.4 L763,558" stroke-width="17"/><ellipse cx="705" cy="562" rx="43" ry="33" stroke="none" fill="#f4d5d5"/></g>
<text transform="translate(676.15,553.20) scale(1.1109,1)" font-size="26.50" font-weight="bold" fill="#fff">ober</text>
<text transform="translate(686.11,573.40) scale(1.2967,1)" font-size="26.50" font-weight="bold" fill="#fff">fran</text>
<text transform="translate(665.81,594.40) scale(1.1809,1)" font-size="26.50" font-weight="bold" fill="#fff">ken</text>
<g>
<circle cx="596.4" cy="558.2" r="51" fill="#8dd6ee"/>
<circle cx="596.3" cy="531.3" r="9.3" fill="#fff"/>
<path d="M584,565 L584,546 Q584,541.9 588.5,541.9 L604,541.9 Q608.4,541.9 608.4,546 L608.4,565 Z" fill="#fff"/>
<path d="M588.2,545.6 L572.8,563" stroke="#fff" stroke-width="6.6" stroke-linecap="round"/>
<path d="M604.4,545.6 L619.8,563" stroke="#fff" stroke-width="6.6" stroke-linecap="round"/>
<path d="M584,565.4 L608.4,565.4 L608.4,567 Q606,575.8 600.3,575.8 L592.2,575.8 Q586.4,575.8 584,567 Z" fill="#6fa8bf"/>
<path d="M584,565.4 L608.4,565.4 L608.4,567 L607.8,568.6 L584.6,568.6 L584,567 Z" fill="#5d9ab4"/>
<path d="M587,572.8 L581.2,580.2 L588.6,590.2" stroke="#fff" stroke-width="7" stroke-linecap="round" stroke-linejoin="round" fill="none"/>
<path d="M605.6,572.8 L611.4,580.2 L604,590.2" stroke="#fff" stroke-width="7" stroke-linecap="round" stroke-linejoin="round" fill="none"/>
</g>
<text transform="translate(658.10,541.80) scale(1.0959,1)" font-size="13.40" font-weight="bold" fill="#2b3f52">Oberfranken:</text>
<text transform="translate(684.00,566.99) scale(1.0369,1)" font-size="15.20" font-weight="bold" fill="#2b3f52">9</text>
<text transform="translate(692.77,564.50) scale(0.9427,1)" font-size="15.20" font-weight="bold" fill="#2b3f52">.</text>
<text transform="translate(696.75,564.50) scale(0.9427,1)" font-size="15.37" font-weight="bold" fill="#2b3f52">o</text>
<text transform="translate(705.60,566.99) scale(1.0369,1)" font-size="15.20" font-weight="bold" fill="#2b3f52">7</text>
<text transform="translate(714.37,564.50) scale(0.9427,1)" font-size="15.37" font-weight="bold" fill="#2b3f52">o</text>
<text transform="translate(682.24,585.00) scale(1.0349,1)" font-size="14.00" font-weight="bold" fill="#1dbf4c">+</text>
<text transform="translate(690.70,585.00) scale(1.0349,1)" font-size="15.60" font-weight="bold" fill="#1dbf4c">o</text>
<text transform="translate(700.56,585.00) scale(1.0349,1)" font-size="14.00" font-weight="bold" fill="#1dbf4c">,</text>
<text transform="translate(704.59,587.20) scale(1.0866,1)" font-size="14.00" font-weight="bold" fill="#1dbf4c">7</text>
<text transform="translate(713.05,585.00) scale(1.0349,1)" font-size="14.00" font-weight="bold" fill="#1dbf4c">%</text>
<text transform="translate(36.01,648.00) scale(0.9298,1)" font-size="11.20" font-style="italic" fill="#3c4a63">Absolute Zahlen:</text>
<text transform="translate(116.46,648.00) scale(0.9635,1)" font-size="11.20" fill="#3c4a63">Geburten </text>
<text transform="translate(164.45,648.00) scale(1.1754,1)" font-size="8.72" stroke="#3c4a63" stroke-width="0.15" fill="#3c4a63">2</text>
<text transform="translate(170.15,648.00) scale(0.9635,1)" font-size="11.03" fill="#3c4a63">o</text>
<text transform="translate(176.06,648.00) scale(1.1754,1)" font-size="8.72" stroke="#3c4a63" stroke-width="0.15" fill="#3c4a63">1</text>
<text transform="translate(181.76,649.90) scale(1.0598,1)" font-size="10.64" fill="#3c4a63">9</text>
<text transform="translate(204.19,648.00) scale(0.8857,1)" font-size="11.20" font-style="italic" fill="#3c4a63">Prozentwerte:</text>
<text transform="translate(271.20,648.00) scale(0.9570,1)" font-size="11.20" fill="#3c4a63">Vergleich von </text>
<text transform="translate(339.13,648.00) scale(1.1676,1)" font-size="8.72" stroke="#3c4a63" stroke-width="0.15" fill="#3c4a63">2</text>
<text transform="translate(344.79,648.00) scale(0.9570,1)" font-size="11.03" fill="#3c4a63">o</text>
<text transform="translate(350.66,648.00) scale(1.1676,1)" font-size="8.72" stroke="#3c4a63" stroke-width="0.15" fill="#3c4a63">1</text>
<text transform="translate(356.33,648.00) scale(1.0527,1)" font-size="10.64" fill="#3c4a63">8</text>
<text transform="translate(362.56,648.00) scale(0.9570,1)" font-size="10.64" fill="#3c4a63">/</text>
<text transform="translate(365.39,648.00) scale(1.1676,1)" font-size="8.72" stroke="#3c4a63" stroke-width="0.15" fill="#3c4a63">1</text>
<text transform="translate(371.05,649.90) scale(1.0527,1)" font-size="10.64" fill="#3c4a63">9</text>
<text transform="translate(391.57,648.00) scale(0.9744,1)" font-size="11.20" fill="#3c4a63">*Stadt und Landkreis</text>
<text transform="translate(34.19,675.00) scale(0.9324,1)" font-size="10.60" fill="#3c4a63">Basis: Befragung aller Geburtskliniken, Geburtshäuser und Hebammen-Praxen in Oberfranken. Kein Anspruch auf Vollständigkeit.</text>
<text transform="translate(34.85,685.60) scale(0.9243,1)" font-size="10.60" fill="#3c4a63">© Demographie-Kompetenzzentrum Oberfranken, Stand: </text>
<text transform="translate(285.50,685.60) scale(1.1276,1)" font-size="8.26" stroke="#3c4a63" stroke-width="0.15" fill="#3c4a63">2</text>
<text transform="translate(290.68,685.60) scale(1.1276,1)" font-size="8.26" stroke="#3c4a63" stroke-width="0.15" fill="#3c4a63">1</text>
<text transform="translate(295.85,685.60) scale(0.9243,1)" font-size="10.07" fill="#3c4a63">.</text>
<text transform="translate(298.44,685.60) scale(0.9243,1)" font-size="10.44" fill="#3c4a63">o</text>
<text transform="translate(303.80,685.60) scale(1.1276,1)" font-size="8.26" stroke="#3c4a63" stroke-width="0.15" fill="#3c4a63">1</text>
<text transform="translate(308.98,685.60) scale(0.9243,1)" font-size="10.07" fill="#3c4a63">.</text>
<text transform="translate(311.57,685.60) scale(1.1276,1)" font-size="8.26" stroke="#3c4a63" stroke-width="0.15" fill="#3c4a63">2</text>
<text transform="translate(316.75,685.60) scale(0.9243,1)" font-size="10.44" fill="#3c4a63">o</text>
<text transform="translate(322.11,685.60) scale(1.1276,1)" font-size="8.26" stroke="#3c4a63" stroke-width="0.15" fill="#3c4a63">1</text>
<text transform="translate(327.29,687.40) scale(1.0167,1)" font-size="10.07" fill="#3c4a63">9</text>
</svg>
</body></html>
